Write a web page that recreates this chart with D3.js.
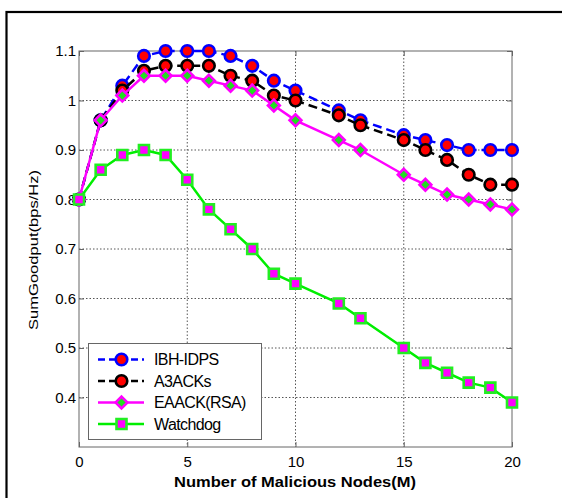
<!DOCTYPE html>
<html>
<head>
<meta charset="utf-8">
<script src="https://cdn.jsdelivr.net/npm/d3@7"></script>
<style>
  html, body { margin: 0; padding: 0; background: #fff; }
  svg { display: block; }
  text { font-family: "Liberation Sans", Arial, sans-serif; fill: #000; }
</style>
</head>
<body>
<svg id="chart" width="562" height="498"></svg>
<script>
// Number of malicious nodes on the x axis
const nodes = [0, 1, 2, 3, 4, 5, 6, 7, 8, 9, 10, 12, 13, 15, 16, 17, 18, 19, 20];

// Sum goodput (bps/Hz) for each scheme
const ibhIdps  = [0.80, 0.96, 1.03, 1.09, 1.10, 1.10, 1.10, 1.09, 1.07, 1.04, 1.02, 0.98, 0.96, 0.93, 0.92, 0.91, 0.90, 0.90, 0.90];
const a3acks   = [0.80, 0.96, 1.02, 1.06, 1.07, 1.07, 1.07, 1.05, 1.04, 1.01, 1.00, 0.97, 0.95, 0.92, 0.90, 0.88, 0.85, 0.83, 0.83];
const eaackRsa = [0.80, 0.96, 1.01, 1.05, 1.05, 1.05, 1.04, 1.03, 1.02, 0.99, 0.96, 0.92, 0.90, 0.85, 0.83, 0.81, 0.80, 0.79, 0.78];
const watchdog = [0.80, 0.86, 0.89, 0.90, 0.89, 0.84, 0.78, 0.74, 0.70, 0.65, 0.63, 0.59, 0.56, 0.50, 0.47, 0.45, 0.43, 0.42, 0.39];

const seriesNames = ["IBH-IDPS", "A3ACKs", "EAACK(RSA)", "Watchdog"];
const xTicks = [0, 5, 10, 15, 20];
const yTicks = [0.4, 0.5, 0.6, 0.7, 0.8, 0.9, 1.0, 1.1];
const yTickLabels = ["0.4", "0.5", "0.6", "0.7", "0.8", "0.9", "1", "1.1"];

const styles = [
  { line: "#0000ff", dash: "9,5", marker: "circle",  stroke: "#0000ff", fill: "#ff0000" },
  { line: "#000000", dash: "9,5", marker: "circle",  stroke: "#000000", fill: "#ff0000" },
  { line: "#ff00ff", dash: null,  marker: "diamond", stroke: "#ff00ff", fill: "#22dd22" },
  { line: "#00ee00", dash: null,  marker: "square",  stroke: "#22ee22", fill: "#ff00ff" }
];

const data = [ibhIdps, a3acks, eaackRsa, watchdog].map((vals, i) => ({
  name: seriesNames[i],
  style: styles[i],
  points: nodes.map((n, j) => ({ x: n, y: vals[j] }))
}));

const svg = d3.select("#chart");

// Outer figure frame
svg.append("rect")
  .attr("x", 6.5).attr("y", 12)
  .attr("width", 600).attr("height", 600)
  .attr("fill", "none").attr("stroke", "#000").attr("stroke-width", 2.2);

const plot = { left: 79, right: 512, top: 51, bottom: 447 };
const x = d3.scaleLinear().domain([0, 20]).range([plot.left, plot.right]);
const y = d3.scaleLinear().domain([0.3, 1.1]).range([plot.bottom, plot.top]);

// Dotted grid
const grid = svg.append("g");
grid.selectAll(".gx").data(xTicks.filter(t => t > 0 && t < 20)).join("line")
  .attr("x1", d => x(d)).attr("x2", d => x(d))
  .attr("y1", plot.top).attr("y2", plot.bottom)
  .attr("stroke", "#555").attr("stroke-width", 1).attr("stroke-dasharray", "1.5,2");
grid.selectAll(".gy").data(yTicks.filter(t => t < 1.1)).join("line")
  .attr("x1", plot.left).attr("x2", plot.right)
  .attr("y1", d => y(d)).attr("y2", d => y(d))
  .attr("stroke", "#555").attr("stroke-width", 1).attr("stroke-dasharray", "1.5,2");

// Axis box
svg.append("rect")
  .attr("x", plot.left).attr("y", plot.top)
  .attr("width", plot.right - plot.left).attr("height", plot.bottom - plot.top)
  .attr("fill", "none").attr("stroke", "#666").attr("stroke-width", 1);

// Axes with inward ticks
const xAxis = svg.append("g").attr("transform", `translate(0,${plot.bottom})`)
  .call(d3.axisBottom(x).tickValues(xTicks).tickSize(-5).tickPadding(9).tickFormat(d3.format("d")));
const yAxis = svg.append("g").attr("transform", `translate(${plot.left},0)`)
  .call(d3.axisLeft(y).tickValues(yTicks).tickSize(-5).tickPadding(3)
    .tickFormat((d, i) => yTickLabels[i]));
const xTop = svg.append("g").attr("transform", `translate(0,${plot.top})`)
  .call(d3.axisTop(x).tickValues(xTicks).tickSize(-5).tickFormat(""));
const yRight = svg.append("g").attr("transform", `translate(${plot.right},0)`)
  .call(d3.axisRight(y).tickValues(yTicks).tickSize(-5).tickFormat(""));
[xAxis, yAxis, xTop, yRight].forEach(g => {
  g.select(".domain").remove();
  g.selectAll(".tick line").attr("stroke", "#666");
  g.selectAll("text").style("font-size", "15px").style("font-family", '"Liberation Sans", Arial, sans-serif');
});

// Marker shapes: the diamond is a square turned by 45 degrees
const symbolFor = { circle: d3.symbolCircle, diamond: d3.symbolSquare, square: d3.symbolSquare };
const sizeFor = { circle: 105, diamond: 70, square: 100 };
const rotateFor = { circle: 0, diamond: 45, square: 0 };

const lineGen = d3.line().x(d => x(d.x)).y(d => y(d.y));

data.forEach(s => {
  const g = svg.append("g");
  g.append("path")
    .attr("d", lineGen(s.points))
    .attr("fill", "none")
    .attr("stroke", s.style.line)
    .attr("stroke-width", 2.5)
    .attr("stroke-dasharray", s.style.dash);
  const sym = d3.symbol().type(symbolFor[s.style.marker]).size(sizeFor[s.style.marker]);
  g.selectAll("path.m").data(s.points).join("path")
    .attr("class", "m")
    .attr("d", sym)
    .attr("transform", d => `translate(${x(d.x)},${y(d.y)}) rotate(${rotateFor[s.style.marker]})`)
    .attr("fill", s.style.fill)
    .attr("stroke", s.style.stroke)
    .attr("stroke-width", 2.6);
});

// Legend
const legend = svg.append("g");
legend.append("rect")
  .attr("x", 88.5).attr("y", 343.5).attr("width", 173).attr("height", 96)
  .attr("fill", "#fff").attr("stroke", "#666").attr("stroke-width", 1);
data.forEach((s, i) => {
  const ly = 359.5 + i * 21.5;
  legend.append("line")
    .attr("x1", 98).attr("x2", 144).attr("y1", ly).attr("y2", ly)
    .attr("stroke", s.style.line).attr("stroke-width", 2.5)
    .attr("stroke-dasharray", s.style.dash ? "7,4" : null);
  legend.append("path")
    .attr("d", d3.symbol().type(symbolFor[s.style.marker]).size(sizeFor[s.style.marker])())
    .attr("transform", `translate(121.5,${ly}) rotate(${rotateFor[s.style.marker]})`)
    .attr("fill", s.style.fill).attr("stroke", s.style.stroke).attr("stroke-width", 2.6);
  legend.append("text")
    .attr("x", 154).attr("y", ly).attr("dy", "0.36em")
    .style("font-size", "16px").style("letter-spacing", "-0.6px")
    .text(s.name);
});

// Axis titles
svg.append("text")
  .attr("x", 295).attr("y", 487)
  .attr("text-anchor", "middle")
  .attr("textLength", 242).attr("lengthAdjust", "spacingAndGlyphs")
  .style("font-size", "15px").style("font-weight", "bold")
  .text("Number of Malicious Nodes(M)");
svg.append("text")
  .attr("transform", "translate(38,250) rotate(-90)")
  .attr("text-anchor", "middle")
  .attr("textLength", 160).attr("lengthAdjust", "spacingAndGlyphs")
  .style("font-size", "13px")
  .text("SumGoodput(bps/Hz)");
</script>
</body>
</html>
